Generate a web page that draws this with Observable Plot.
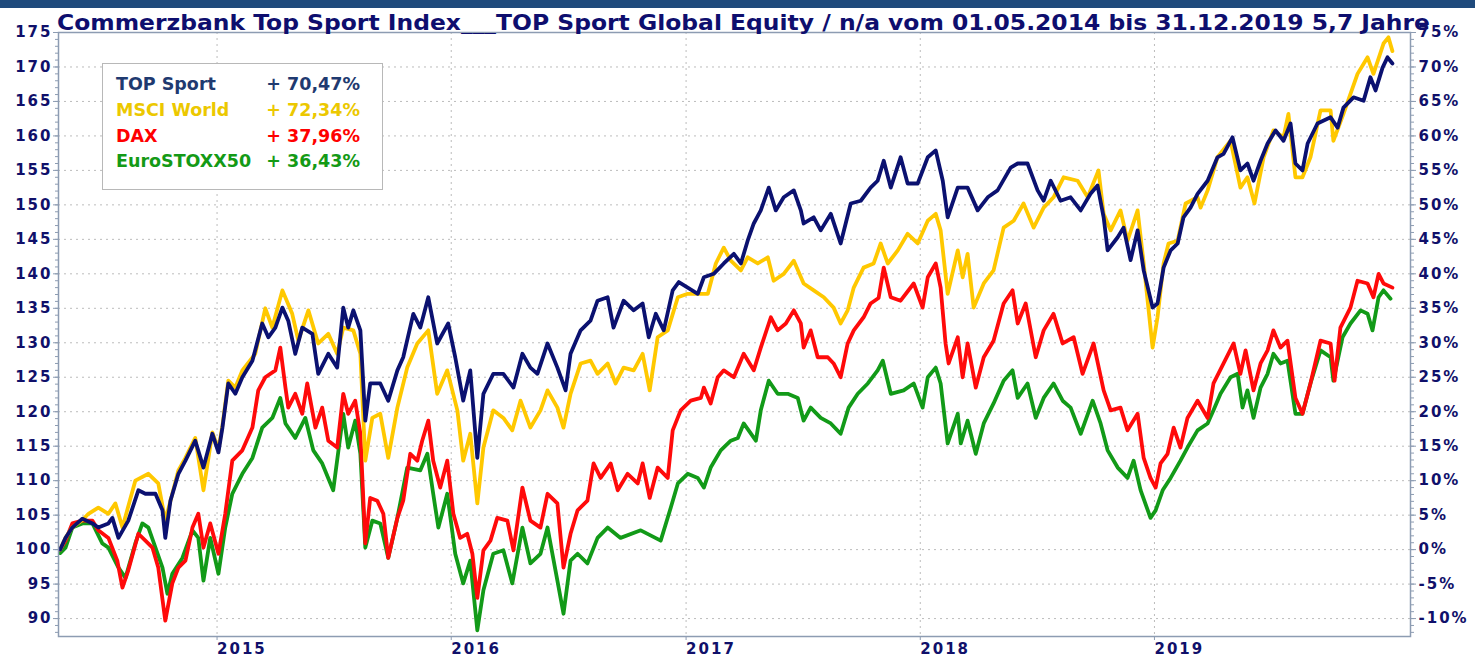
<!DOCTYPE html>
<html>
<head>
<meta charset="utf-8">
<script src="https://cdn.jsdelivr.net/npm/d3@7"></script>
<script src="https://cdn.jsdelivr.net/npm/@observablehq/plot@0.6"></script>
<style>
  html, body { margin: 0; padding: 0; background: #fff; }
  #wrap { position: relative; width: 1475px; height: 657px; overflow: hidden; background: #fff; }
  #bar { position: absolute; left: 0; top: 0; width: 1475px; height: 8px; background: #1f4a7c; z-index: 3; }
  #title { position: absolute; left: 0; top: 0; z-index: 2; }
  #chart { position: absolute; left: 0; top: 0; z-index: 1; }
  #legend { position: absolute; left: 102px; top: 63px; width: 281px; height: 127px; box-sizing: border-box;
            border: 1.5px solid #b8b8b8; background: #fff; z-index: 4;
            font-family: "DejaVu Sans", sans-serif; font-weight: bold; font-size: 17.5px; }
  #legend .n { position: absolute; left: 13px; white-space: nowrap; line-height: 20px; }
  #legend .v { position: absolute; right: 22px; white-space: nowrap; line-height: 20px; }
</style>
</head>
<body>
<div id="wrap">
  <div id="bar"></div>
  <div id="chart"></div>
  <div id="title"></div>
  <div id="legend"></div>
</div>
<script>
// ---- Data (time as decimal year, value as index, start = 100) ----
const seriesNames = ["TOP Sport", "MSCI World", "DAX", "EuroSTOXX50"];
const legendValues = ["+ 70,47%", "+ 72,34%", "+ 37,96%", "+ 36,43%"];
const yTickValues = [90, 95, 100, 105, 110, 115, 120, 125, 130, 135, 140, 145, 150, 155, 160, 165, 170, 175];
const yearTicks = [2015, 2016, 2017, 2018, 2019];
const titleText = "Commerzbank Top Sport Index___TOP Sport Global Equity / n/a vom 01.05.2014 bis 31.12.2019 5,7 Jahre";

const topSport = [
[2014.330,100],[2014.353,101.7],[2014.382,103.2],[2014.425,104.5],[2014.468,103.8],[2014.493,103.2],[2014.536,103.8],[2014.553,104.6],[2014.579,101.7],[2014.621,104.2],
[2014.664,108.6],[2014.694,108.1],[2014.737,108.1],[2014.767,105.7],[2014.779,101.7],[2014.801,107.1],[2014.835,111.0],[2014.865,112.9],[2014.907,115.8],[2014.942,111.9],
[2014.980,116.8],[2015.006,114.1],[2015.023,117.7],[2015.048,124.1],[2015.078,122.6],[2015.108,125.0],[2015.151,127.4],[2015.193,132.8],[2015.219,130.8],[2015.249,132.2],
[2015.279,135.1],[2015.304,133.2],[2015.334,128.4],[2015.364,132.2],[2015.407,131.3],[2015.432,125.5],[2015.475,128.4],[2015.513,126.4],[2015.539,135.1],[2015.560,132.2],
[2015.582,134.7],[2015.612,131.8],[2015.633,118.7],[2015.654,124.1],[2015.697,124.1],[2015.731,121.6],[2015.770,126.0],[2015.795,127.9],[2015.838,134.2],[2015.868,132.2],
[2015.902,136.6],[2015.940,129.9],[2015.987,132.8],[2016.017,127.9],[2016.051,121.6],[2016.081,126.0],[2016.111,113.3],[2016.137,122.6],[2016.179,125.5],[2016.222,125.5],
[2016.265,123.5],[2016.303,128.4],[2016.337,126.4],[2016.367,125.5],[2016.410,129.9],[2016.452,126.4],[2016.487,123.1],[2016.508,128.4],[2016.551,131.8],[2016.593,133.2],
[2016.623,136.1],[2016.666,136.6],[2016.691,132.2],[2016.734,136.1],[2016.777,134.7],[2016.815,135.7],[2016.841,130.8],[2016.871,134.2],[2016.905,131.8],[2016.943,137.6],
[2016.969,138.8],[2017.007,138.0],[2017.050,137.1],[2017.076,139.5],[2017.118,140.0],[2017.161,141.5],[2017.204,142.9],[2017.234,141.5],[2017.263,144.8],[2017.289,147.3],
[2017.319,149.2],[2017.353,152.5],[2017.383,149.2],[2017.417,151.1],[2017.460,152.1],[2017.490,149.2],[2017.502,147.3],[2017.545,148.2],[2017.575,146.3],[2017.618,148.7],
[2017.660,144.4],[2017.703,150.2],[2017.746,150.6],[2017.788,152.5],[2017.818,153.5],[2017.844,156.4],[2017.874,152.5],[2017.916,156.9],[2017.946,153.1],[2017.989,153.1],
[2018.032,156.9],[2018.066,157.9],[2018.096,153.5],[2018.117,148.2],[2018.160,152.5],[2018.202,152.5],[2018.245,149.2],[2018.288,151.1],[2018.330,152.1],[2018.386,155.4],
[2018.416,156.0],[2018.458,156.0],[2018.501,152.1],[2018.527,150.6],[2018.557,153.5],[2018.599,150.6],[2018.642,151.1],[2018.685,149.2],[2018.727,151.6],[2018.757,152.8],
[2018.783,148.2],[2018.800,143.4],[2018.843,145.3],[2018.868,146.7],[2018.898,142.0],[2018.928,146.3],[2018.954,140.5],[2018.992,135.1],[2019.013,135.7],[2019.039,140.9],
[2019.069,143.4],[2019.099,144.4],[2019.124,148.2],[2019.154,149.6],[2019.184,151.6],[2019.227,153.5],[2019.269,156.9],[2019.295,157.4],[2019.333,159.8],[2019.367,155.0],
[2019.397,156.0],[2019.423,153.5],[2019.453,156.4],[2019.483,158.9],[2019.517,160.8],[2019.551,159.3],[2019.581,161.8],[2019.602,156.0],[2019.632,155.0],[2019.654,158.9],
[2019.696,161.8],[2019.752,162.7],[2019.782,161.2],[2019.807,164.1],[2019.850,165.6],[2019.893,165.1],[2019.922,168.5],[2019.944,166.6],[2019.974,169.9],[2019.995,171.4],
[2020.016,170.5]
];

const msciWorld = [
[2014.330,100],[2014.353,101.7],[2014.382,103.2],[2014.425,104.3],[2014.451,105.2],[2014.493,106.1],[2014.536,105.2],[2014.566,106.7],[2014.596,103.2],[2014.651,110.0],
[2014.707,111.0],[2014.749,109.6],[2014.779,104.2],[2014.809,108.1],[2014.835,111.5],[2014.865,113.3],[2014.907,116.2],[2014.942,108.6],[2014.980,117.0],[2015.006,114.5],
[2015.023,118.0],[2015.048,124.5],[2015.078,123.5],[2015.108,126.0],[2015.163,128.4],[2015.206,135.0],[2015.236,132.2],[2015.279,137.6],[2015.321,134.2],[2015.347,130.3],
[2015.390,134.7],[2015.432,129.9],[2015.475,131.3],[2015.513,128.4],[2015.539,132.2],[2015.582,131.8],[2015.612,128.4],[2015.633,112.9],[2015.663,119.1],[2015.697,119.7],
[2015.731,113.3],[2015.770,120.6],[2015.812,126.4],[2015.855,129.9],[2015.902,131.8],[2015.940,122.6],[2015.983,126.0],[2016.026,120.2],[2016.051,112.9],[2016.081,116.8],
[2016.111,106.7],[2016.137,114.8],[2016.179,120.2],[2016.222,119.1],[2016.260,117.3],[2016.295,121.6],[2016.337,117.7],[2016.380,120.2],[2016.410,123.1],[2016.452,120.6],
[2016.478,117.7],[2016.508,122.6],[2016.551,127.0],[2016.593,127.4],[2016.623,125.5],[2016.666,127.0],[2016.700,124.1],[2016.734,126.4],[2016.777,126.0],[2016.815,128.4],
[2016.845,123.1],[2016.879,130.8],[2016.922,131.8],[2016.965,136.6],[2017.007,137.1],[2017.050,137.1],[2017.093,137.1],[2017.127,141.5],[2017.161,143.8],[2017.191,141.9],
[2017.234,140.5],[2017.263,142.4],[2017.306,141.5],[2017.349,142.4],[2017.374,139.0],[2017.417,140.0],[2017.460,141.9],[2017.502,138.6],[2017.545,137.6],[2017.588,136.6],
[2017.630,135.1],[2017.660,132.8],[2017.690,134.7],[2017.716,138.0],[2017.758,140.9],[2017.801,141.5],[2017.831,144.4],[2017.861,141.5],[2017.904,143.4],[2017.946,145.8],
[2017.989,144.4],[2018.032,147.7],[2018.066,148.7],[2018.087,146.3],[2018.117,137.1],[2018.160,143.4],[2018.181,139.5],[2018.202,142.9],[2018.228,135.1],[2018.271,138.6],
[2018.313,140.5],[2018.356,146.7],[2018.399,147.7],[2018.441,150.2],[2018.484,146.7],[2018.527,149.6],[2018.569,151.1],[2018.612,154.0],[2018.672,153.5],[2018.715,151.1],
[2018.761,155.0],[2018.783,148.7],[2018.813,146.3],[2018.855,149.2],[2018.885,144.8],[2018.928,149.2],[2018.954,141.5],[2018.992,129.3],[2019.013,133.7],[2019.039,141.5],
[2019.060,144.4],[2019.099,144.8],[2019.133,150.2],[2019.184,151.1],[2019.197,149.6],[2019.227,152.1],[2019.269,156.9],[2019.325,159.3],[2019.367,152.5],[2019.397,154.0],
[2019.427,150.2],[2019.466,156.9],[2019.508,160.8],[2019.551,159.8],[2019.572,163.2],[2019.602,154.0],[2019.632,154.0],[2019.666,156.9],[2019.709,163.7],[2019.752,163.7],
[2019.764,159.3],[2019.807,163.2],[2019.867,169.0],[2019.910,171.4],[2019.935,169.0],[2019.978,173.4],[2019.999,174.3],[2020.016,172.3]
];

const dax = [
[2014.330,100],[2014.353,101.3],[2014.382,103.8],[2014.425,104.2],[2014.468,104.2],[2014.493,102.8],[2014.536,101.7],[2014.574,98.4],[2014.596,94.5],[2014.621,97.0],
[2014.664,102.3],[2014.694,101.3],[2014.724,100.3],[2014.749,97.4],[2014.779,89.7],[2014.809,95.1],[2014.835,97.4],[2014.865,98.4],[2014.895,103.2],[2014.920,105.2],
[2014.942,100.3],[2014.971,103.8],[2015.006,99.4],[2015.035,105.2],[2015.065,112.9],[2015.108,114.4],[2015.151,117.7],[2015.176,123.1],[2015.206,125.0],[2015.249,126.0],
[2015.270,129.3],[2015.292,123.5],[2015.304,120.6],[2015.334,122.6],[2015.364,119.7],[2015.385,124.1],[2015.420,117.7],[2015.449,120.6],[2015.475,115.8],[2015.513,114.8],
[2015.539,122.6],[2015.560,119.7],[2015.590,121.6],[2015.612,116.8],[2015.633,100.9],[2015.654,107.5],[2015.684,107.1],[2015.710,105.2],[2015.731,98.8],[2015.770,104.6],
[2015.795,107.1],[2015.825,113.9],[2015.855,112.9],[2015.876,115.8],[2015.902,118.7],[2015.923,112.9],[2015.953,109.0],[2015.983,112.9],[2016.009,105.2],[2016.038,101.7],
[2016.068,102.3],[2016.090,99.4],[2016.111,93.0],[2016.137,99.9],[2016.167,101.3],[2016.196,104.6],[2016.239,104.2],[2016.265,99.9],[2016.303,109.0],[2016.337,104.2],
[2016.380,103.2],[2016.410,108.1],[2016.452,106.7],[2016.478,97.4],[2016.508,102.3],[2016.538,105.7],[2016.580,107.1],[2016.606,112.5],[2016.636,110.4],[2016.679,112.5],
[2016.709,108.6],[2016.751,111.0],[2016.794,109.6],[2016.815,112.5],[2016.845,107.5],[2016.879,111.9],[2016.922,110.4],[2016.943,117.3],[2016.977,120.2],[2017.020,121.6],
[2017.063,122.0],[2017.076,123.5],[2017.105,121.2],[2017.135,125.0],[2017.161,126.0],[2017.204,125.0],[2017.246,128.4],[2017.289,126.0],[2017.319,129.3],[2017.362,133.7],
[2017.391,131.8],[2017.426,132.8],[2017.460,134.7],[2017.490,132.8],[2017.502,129.3],[2017.532,131.8],[2017.562,127.9],[2017.605,127.9],[2017.630,127.0],[2017.660,125.0],
[2017.690,129.9],[2017.716,131.8],[2017.758,133.7],[2017.788,135.7],[2017.822,136.5],[2017.844,140.9],[2017.874,136.6],[2017.916,136.1],[2017.972,138.6],[2018.010,135.1],
[2018.032,139.5],[2018.066,141.5],[2018.087,138.0],[2018.108,129.9],[2018.121,127.0],[2018.160,130.8],[2018.181,125.0],[2018.202,129.9],[2018.237,123.5],[2018.271,127.9],
[2018.313,130.3],[2018.356,135.7],[2018.394,137.6],[2018.416,132.8],[2018.450,135.7],[2018.493,127.9],[2018.527,131.8],[2018.569,134.2],[2018.608,129.9],[2018.655,130.8],
[2018.693,125.5],[2018.740,129.9],[2018.783,123.1],[2018.813,120.2],[2018.855,120.6],[2018.885,117.3],[2018.928,119.7],[2018.954,113.3],[2018.983,110.4],[2019.005,109.0],
[2019.026,112.5],[2019.056,113.9],[2019.082,117.7],[2019.111,114.8],[2019.141,119.1],[2019.184,121.6],[2019.227,119.1],[2019.252,124.1],[2019.295,127.0],[2019.338,129.9],
[2019.367,125.5],[2019.389,128.9],[2019.423,123.1],[2019.453,127.0],[2019.483,128.9],[2019.508,131.8],[2019.538,129.3],[2019.568,130.3],[2019.602,122.0],[2019.632,119.7],
[2019.666,124.1],[2019.709,130.3],[2019.752,129.9],[2019.769,124.5],[2019.794,132.2],[2019.837,135.1],[2019.867,139.0],[2019.910,138.6],[2019.935,136.6],[2019.957,140.0],
[2019.978,138.6],[2020.016,138.0]
];

const euroStoxx50 = [
[2014.330,99.5],[2014.353,100.3],[2014.382,103.2],[2014.425,103.8],[2014.468,103.8],[2014.510,100.9],[2014.536,100.3],[2014.579,97.4],[2014.609,95.9],[2014.651,100.9],
[2014.681,103.8],[2014.707,103.2],[2014.737,100.3],[2014.767,97.4],[2014.788,93.6],[2014.809,96.5],[2014.852,98.8],[2014.895,102.8],[2014.920,101.7],[2014.942,95.5],
[2014.971,101.7],[2015.006,96.5],[2015.035,103.2],[2015.065,108.1],[2015.108,111.0],[2015.151,113.3],[2015.193,117.7],[2015.236,119.1],[2015.270,122.0],[2015.292,118.3],
[2015.334,116.2],[2015.377,119.1],[2015.411,114.4],[2015.449,112.5],[2015.496,108.6],[2015.539,119.7],[2015.560,114.8],[2015.590,118.7],[2015.612,113.9],[2015.633,100.3],
[2015.663,104.2],[2015.697,103.8],[2015.731,98.8],[2015.770,104.6],[2015.812,111.9],[2015.868,111.5],[2015.898,113.9],[2015.923,108.1],[2015.945,103.2],[2015.983,108.1],
[2016.017,99.4],[2016.051,95.1],[2016.081,98.4],[2016.111,88.3],[2016.137,94.1],[2016.179,99.4],[2016.222,99.9],[2016.260,95.1],[2016.303,103.2],[2016.337,98.0],
[2016.380,99.4],[2016.410,103.2],[2016.452,95.5],[2016.478,90.7],[2016.508,98.4],[2016.538,99.4],[2016.580,98.0],[2016.623,101.7],[2016.666,103.2],[2016.721,101.7],
[2016.807,102.8],[2016.892,101.3],[2016.935,106.1],[2016.965,109.6],[2017.007,111.0],[2017.050,110.4],[2017.076,109.0],[2017.105,111.9],[2017.148,114.4],[2017.191,115.8],
[2017.221,116.2],[2017.246,118.3],[2017.298,115.8],[2017.319,120.2],[2017.353,124.5],[2017.391,122.6],[2017.434,122.6],[2017.477,122.0],[2017.502,118.7],[2017.532,120.6],
[2017.575,119.1],[2017.618,118.3],[2017.660,116.8],[2017.694,120.6],[2017.733,122.6],[2017.776,124.1],[2017.818,126.0],[2017.840,127.4],[2017.874,122.6],[2017.929,123.1],
[2017.972,124.1],[2018.010,120.6],[2018.032,125.0],[2018.066,126.4],[2018.087,124.1],[2018.117,115.4],[2018.160,119.7],[2018.173,115.4],[2018.202,118.7],[2018.237,113.9],
[2018.271,118.3],[2018.313,121.2],[2018.356,124.5],[2018.394,126.0],[2018.416,122.0],[2018.458,124.1],[2018.493,119.1],[2018.527,122.0],[2018.569,124.1],[2018.608,121.6],
[2018.642,120.6],[2018.685,116.8],[2018.736,121.6],[2018.770,118.3],[2018.800,114.4],[2018.843,111.9],[2018.885,110.4],[2018.911,112.9],[2018.941,108.6],[2018.983,104.6],
[2019.005,105.7],[2019.035,108.6],[2019.069,110.4],[2019.111,112.9],[2019.141,114.8],[2019.184,117.3],[2019.227,118.3],[2019.252,120.2],[2019.282,122.6],[2019.325,125.0],
[2019.355,125.5],[2019.376,120.6],[2019.397,123.1],[2019.423,119.1],[2019.453,123.5],[2019.483,125.5],[2019.508,128.4],[2019.538,127.0],[2019.568,127.4],[2019.602,119.7],
[2019.632,119.7],[2019.666,124.1],[2019.709,128.9],[2019.752,127.9],[2019.764,124.5],[2019.803,130.8],[2019.837,132.8],[2019.880,134.7],[2019.910,134.2],[2019.931,131.8],
[2019.957,136.6],[2019.978,137.6],[2020.008,136.4]
];

const xDomainYears = [2014.323, 2020.093];
const yDomain = [87.4, 175];

// ---- Styles ----
const lineColors = {"TOP Sport": "#0b1170", "MSCI World": "#ffc800", "DAX": "#ff0a0a", "EuroSTOXX50": "#129a18"};
const legendColors = ["#1f3a70", "#ecc800", "#ff0000", "#149a16"];
const axisText = "#10106a";
const frameColor = "#8d9cb2";

function toDate(t) {
  const y = Math.floor(t);
  const a = Date.UTC(y, 0, 1), b = Date.UTC(y + 1, 0, 1);
  return new Date(a + (t - y) * (b - a));
}
const rows = (name, arr) => arr.map(([t, v]) => ({series: name, date: toDate(t), value: v}));
const data = {
  "TOP Sport": rows("TOP Sport", topSport),
  "MSCI World": rows("MSCI World", msciWorld),
  "DAX": rows("DAX", dax),
  "EuroSTOXX50": rows("EuroSTOXX50", euroStoxx50)
};
const yearDates = yearTicks.map(y => new Date(Date.UTC(y, 0, 1)));
const minorTicks = d3.range(88, 176, 1);

const drawOrder = ["EuroSTOXX50", "DAX", "MSCI World", "TOP Sport"];

const chart = Plot.plot({
  width: 1475,
  height: 657,
  marginTop: 32,
  marginBottom: 21,
  marginLeft: 58,
  marginRight: 65,
  x: {type: "utc", domain: xDomainYears.map(toDate)},
  y: {domain: yDomain},
  style: {fontFamily: "'DejaVu Sans', sans-serif", fontWeight: "bold", fontSize: "15px", color: axisText, background: "white", overflow: "visible", letterSpacing: "2px"},
  marks: [
    Plot.gridY(yTickValues, {stroke: "#bcbcbc", strokeOpacity: 1, strokeDasharray: "2,4", strokeWidth: 1}),
    Plot.gridX(yearDates, {stroke: "#bcbcbc", strokeOpacity: 1, strokeDasharray: "2,4", strokeWidth: 1}),
    ...drawOrder.map(name => Plot.line(data[name], {x: "date", y: "value", stroke: lineColors[name], strokeWidth: 3.8, strokeLinejoin: "round", strokeLinecap: "round"})),
    Plot.frame({stroke: frameColor, strokeWidth: 1.5}),
    Plot.axisY(minorTicks, {anchor: "left", tickSize: 3, tickFormat: () => "", stroke: frameColor, label: null}),
    Plot.axisY(yTickValues, {anchor: "left", tickSize: 5, tickPadding: 1, stroke: frameColor, fill: axisText, label: null}),
    Plot.axisY(minorTicks, {anchor: "right", tickSize: 3, tickFormat: () => "", stroke: frameColor, label: null}),
    Plot.axisY(yTickValues, {anchor: "right", tickSize: 5, tickPadding: 3, stroke: frameColor, fill: axisText, label: null, tickFormat: d => `${d - 100}%`}),
    Plot.axisX(yearDates, {anchor: "bottom", tickSize: 4, tickPadding: 3, stroke: frameColor, fill: axisText, label: null, textAnchor: "start", tickFormat: d => String(d.getUTCFullYear())})
  ]
});
document.getElementById("chart").appendChild(chart);

// ---- Title ----
const ns = "http://www.w3.org/2000/svg";
const tsvg = document.createElementNS(ns, "svg");
tsvg.setAttribute("width", 1475);
tsvg.setAttribute("height", 34);
const tt = document.createElementNS(ns, "text");
tt.setAttribute("x", 57);
tt.setAttribute("y", 29.5);
tt.setAttribute("textLength", 1373);
tt.setAttribute("lengthAdjust", "spacingAndGlyphs");
tt.setAttribute("font-family", "'DejaVu Sans', sans-serif");
tt.setAttribute("font-weight", "bold");
tt.setAttribute("font-size", "20.5");
tt.setAttribute("fill", "#0e0e6e");
tt.textContent = titleText;
tsvg.appendChild(tt);
document.getElementById("title").appendChild(tsvg);

// ---- Legend ----
const legend = document.getElementById("legend");
const rowCenters = [20, 46, 72, 97];
seriesNames.forEach((name, i) => {
  const n = document.createElement("div");
  n.className = "n";
  n.style.top = (rowCenters[i] - 10) + "px";
  n.style.color = legendColors[i];
  n.textContent = name;
  legend.appendChild(n);
  const v = document.createElement("div");
  v.className = "v";
  v.style.top = (rowCenters[i] - 10) + "px";
  v.style.color = legendColors[i];
  v.textContent = legendValues[i];
  legend.appendChild(v);
});
</script>
</body>
</html>
